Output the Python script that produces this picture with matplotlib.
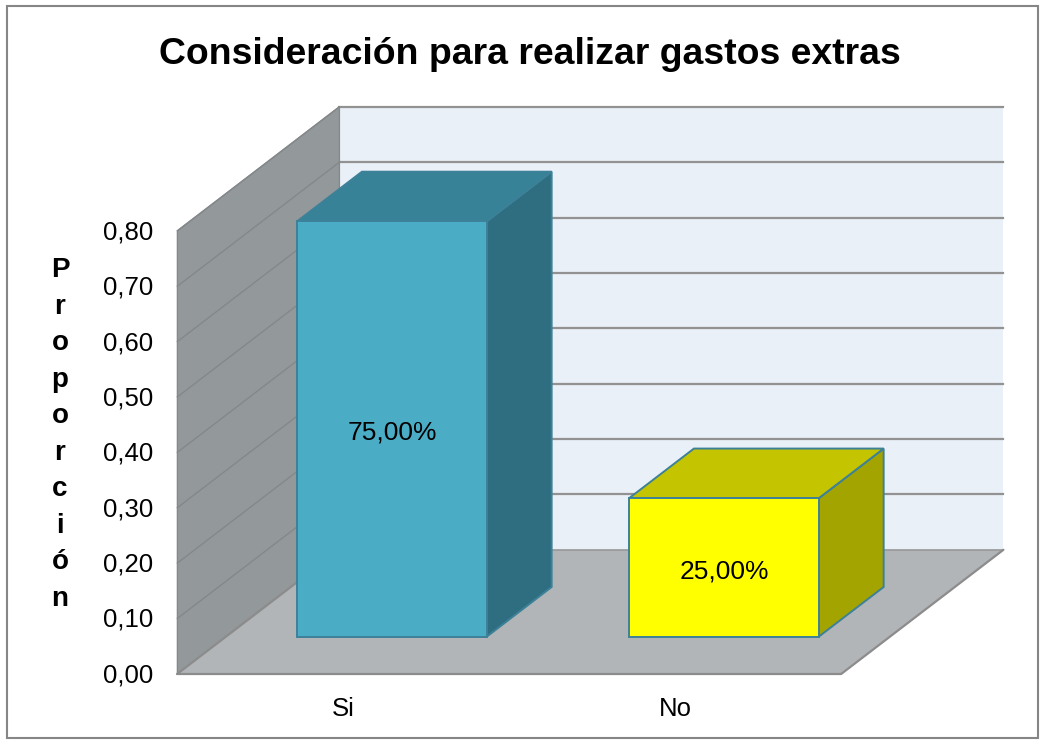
import matplotlib
matplotlib.use("Agg")
import matplotlib.pyplot as plt
from matplotlib.patches import Polygon, Rectangle
from matplotlib.transforms import ScaledTranslation

categories = ["Si", "No"]
values = [0.75, 0.25]
y_ticks = [0.0, 0.1, 0.2, 0.3, 0.4, 0.5, 0.6, 0.7, 0.8]
title = "Consideración para realizar gastos extras"
y_title = "Proporción"
front_colors = ["#4BACC6", "#FFFF00"]
top_colors = ["#378296", "#C4C400"]
side_colors = ["#2F6D80", "#A4A400"]

plt.rcParams["font.family"] = ["Liberation Sans", "DejaVu Sans"]
W, H = 1042, 740
fig = plt.figure(figsize=(W / 100, H / 100), dpi=100, facecolor="white")
fig.add_artist(Rectangle((6.5 / W, 1 - 737.5 / H), 1031 / W, 732 / H, transform=fig.transFigure,
                         fill=False, edgecolor="#868686", linewidth=1.5))
ax = fig.add_axes([177.4 / W, 1 - 673.8 / H, 664 / W, 443 / H])
ax.set_xlim(0, len(categories))
ax.set_ylim(0, y_ticks[-1])
ax.patch.set_visible(False)
for s in ax.spines.values():
    s.set_visible(False)

# oblique projection: depth d in 0..1 moves a point right and up on the page
DX = 162 / 332
DY = 124 / 553.75


def proj(x, y, d=0.0):
    return (x + DX * d, y + DY * d)


def face(pts, **kw):
    kw.setdefault("clip_on", False)
    ax.add_patch(Polygon([proj(*p) for p in pts], closed=True, **kw))


n = len(categories)
ymax = y_ticks[-1]
# walls and floor
face([(0, 0, 1), (n, 0, 1), (n, ymax, 1), (0, ymax, 1)], facecolor="#E9F0F7", edgecolor="none", zorder=1)
face([(0, 0, 0), (0, 0, 1), (0, ymax, 1), (0, ymax, 0)], facecolor="#93989A", edgecolor="#85898B", linewidth=1, zorder=2)
face([(0, 0, 0), (n, 0, 0), (n, 0, 1), (0, 0, 1)], facecolor="#B1B5B8", edgecolor="none", zorder=2)
for a, b in [((0, 0, 0), (n, 0, 0)), ((n, 0, 0), (n, 0, 1)), ((0, 0, 0), (0, 0, 1))]:
    xa, ya = proj(*a)
    xb, yb = proj(*b)
    ax.plot([xa, xb], [ya, yb], color="#8C8C8C", lw=1.6, zorder=3, clip_on=False, solid_capstyle="round")

# gridlines
for t in y_ticks[1:]:
    x0, y0 = proj(0, t, 0)
    x1, y1 = proj(0, t, 1)
    x2, y2 = proj(n, t, 1)
    ax.plot([x0, x1], [y0, y1], color="#84888A", lw=1.0, zorder=2.5, clip_on=False)
    ax.plot([x1, x2], [y1, y2], color="#929292", lw=1.6, zorder=1.5, clip_on=False)
x1, y1 = proj(0, 0, 1)
x2, y2 = proj(n, 0, 1)
ax.plot([x1, x2], [y1, y2], color="#999999", lw=1.2, zorder=2.4, clip_on=False)

# bars
bar_w = 1 / 1.75
d0, d1 = 0.3, 0.7
for i, (v, fc, tc, sc) in enumerate(zip(values, front_colors, top_colors, side_colors)):
    c = i + 0.5
    l, r = c - bar_w / 2, c + bar_w / 2
    edge = dict(edgecolor="#3D8199", linewidth=1.4, zorder=5, joinstyle="miter")
    face([(r, 0, d0), (r, 0, d1), (r, v, d1), (r, v, d0)], facecolor=sc, **edge)
    face([(l, v, d0), (r, v, d0), (r, v, d1), (l, v, d1)], facecolor=tc, **edge)
    face([(l, 0, d0), (r, 0, d0), (r, v, d0), (l, v, d0)], facecolor=fc, **edge)
    lx, ly = proj(c, v / 2, d0)
    ax.annotate(f"{v * 100:.2f}%".replace(".", ","), (lx, ly), xytext=(0, -4), textcoords="offset pixels",
                ha="center", va="center", fontsize=19, color="black", zorder=6)

ax.set_yticks(y_ticks)
ax.set_yticklabels([f"{t:.2f}".replace(".", ",") for t in y_ticks], fontsize=18.5, color="black")
ax.set_xticks([i + 0.5 for i in range(n)])
ax.set_xticklabels(categories, fontsize=18.5, color="black")
ax.tick_params(axis="both", length=0)
ax.tick_params(axis="y", pad=17.5)
ax.tick_params(axis="x", pad=17)
nudge = ScaledTranslation(0, 1 / 100, fig.dpi_scale_trans)
for lab in ax.get_yticklabels():
    lab.set_transform(lab.get_transform() + nudge)

fig.text(530 / W, 1 - 55 / H, title, ha="center", va="center", fontsize=26.9, fontweight="bold", color="black")
fig.text(60 / W, 1 - 434.5 / H, "\n".join(y_title), ha="center", va="center", fontsize=20,
         fontweight="bold", color="black", linespacing=1.523, multialignment="center")

fig.savefig("out.png", dpi=100, facecolor="white")
